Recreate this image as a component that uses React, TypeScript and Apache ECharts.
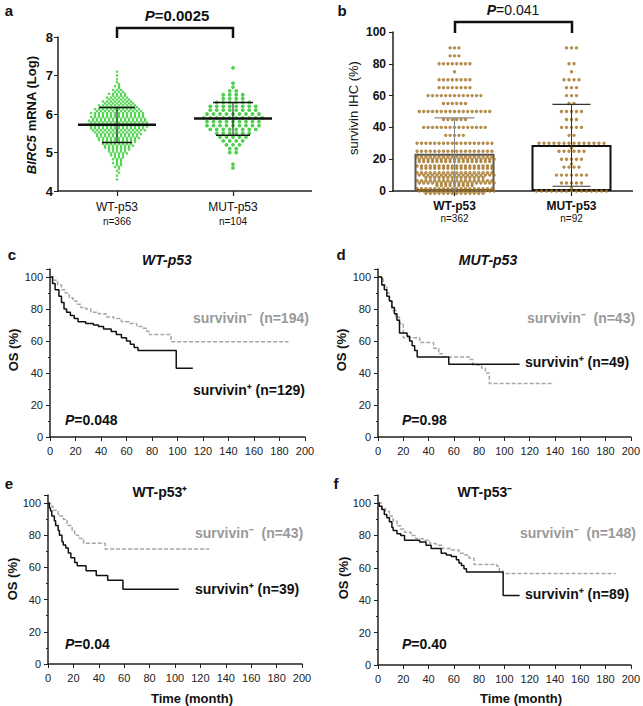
import React, { useEffect, useRef } from 'react';
import * as echarts from 'echarts';

const FONT = '"Liberation Sans", Arial, Helvetica, sans-serif';

// ---------- Panel a : BIRC5 mRNA (Log) ----------
const aCategories = ['WT-p53', 'MUT-p53'];
const aCounts = ['n=366', 'n=104'];
// [value, number of dots]
const aWTBins: [number, number][] = [
  [4.3, 1], [4.4, 1], [4.5, 2], [4.6, 3], [4.7, 5], [4.8, 5], [4.9, 7], [5.0, 10], [5.1, 13], [5.2, 16],
  [5.3, 19], [5.4, 22], [5.5, 24], [5.6, 28], [5.7, 30], [5.8, 30], [5.9, 28], [6.0, 27], [6.1, 24], [6.2, 20],
  [6.3, 16], [6.4, 12], [6.5, 9], [6.6, 6], [6.7, 3], [6.8, 2], [6.9, 1], [7.0, 1], [7.1, 1],
];
const aMUTBins: [number, number][] = [
  [4.6, 1], [4.7, 1], [5.0, 2], [5.1, 2], [5.2, 3], [5.3, 4], [5.4, 5], [5.5, 6], [5.6, 8], [5.7, 9],
  [5.8, 9], [5.9, 10], [6.0, 9], [6.1, 8], [6.2, 8], [6.3, 6], [6.4, 4], [6.5, 4], [6.6, 2], [6.7, 1],
  [6.8, 1], [7.2, 1],
];
const aMean = [5.72, 5.88];
const aSdLow = [5.26, 5.45];
const aSdHigh = [6.17, 6.3];

// ---------- Panel b : survivin IHC (%) ----------
const bCategories = ['WT-p53', 'MUT-p53'];
const bCounts = ['n=362', 'n=92'];
const bWTRows: [number, number][] = [
  [0, 50], [5, 45], [10, 50], [15, 35], [20, 53], [25, 18], [30, 18], [35, 5], [40, 15], [45, 6],
  [50, 17], [55, 6], [60, 13], [65, 8], [70, 8], [75, 1], [80, 8], [85, 3], [90, 3],
];
const bMUTRows: [number, number][] = [
  [0, 15], [2, 1], [5, 5], [10, 7], [15, 4], [17, 1], [20, 5], [25, 6], [27, 1], [30, 14], [35, 2],
  [40, 5], [45, 3], [50, 5], [55, 2], [60, 3], [65, 3], [70, 4], [75, 1], [80, 2], [90, 3],
];
const bMean = [23.5, 29];
const bErrLow = [0, 3];
const bErrHigh = [46, 54.5];

// ---------- Kaplan-Meier curves [month, OS %] ----------
const cPos: [number, number][] = [[0, 100], [2, 96], [4, 92], [7, 88], [9, 84], [11, 80], [13, 78], [16, 76], [19, 74], [22, 72], [28, 71], [34, 70], [38, 69], [42, 67.5], [48, 66], [52, 64], [56, 62], [60, 60], [63, 58], [66, 56], [69, 54], [99, 43], [112, 43]];
const cNeg: [number, number][] = [[0, 100], [3, 98], [6, 95], [9, 92], [12, 90], [15, 87], [18, 85], [21, 83], [24, 81], [28, 80], [32, 78], [38, 77], [44, 75], [50, 74], [56, 72], [62, 71], [68, 69], [72, 68], [76, 66], [78, 64], [95, 59.5], [187, 59.5]];
const dPos: [number, number][] = [[0, 100], [3, 95], [5, 92], [7, 88], [9, 85], [11, 81], [13, 77], [15, 73], [17, 65], [23, 63], [25, 60], [27, 57], [29, 54], [31, 50], [56, 45.5], [112, 45.5]];
const dNeg: [number, number][] = [[0, 100], [4, 95], [7, 90], [9, 85], [11, 79], [14, 75], [17, 71], [20, 62], [33, 59], [44, 55.5], [48, 52], [51, 50], [73, 48.5], [75, 45], [82, 43], [85, 40], [88, 33.5], [139, 33.5]];
const ePos: [number, number][] = [[0, 100], [1, 97], [2, 95], [3, 92], [5, 89], [6, 86], [8, 83], [9, 80], [11, 76], [12, 74], [14, 72], [16, 69], [18, 66], [21, 63], [23, 61], [30, 58], [38, 55], [47, 52], [59, 46.5], [103, 46.5]];
const eNeg: [number, number][] = [[0, 100], [2, 98], [4, 95.5], [8, 92], [12, 90], [15, 86], [19, 83], [21, 80], [24, 78], [28, 75], [45, 71.5], [127, 71.5]];
const fPos: [number, number][] = [[0, 100], [1, 98], [3, 96], [5, 93], [7, 91], [9, 88.5], [11, 85], [12, 83], [15, 81], [18, 80], [21, 77], [33, 76], [38, 74], [42, 72], [50, 69], [54, 68], [58, 67], [62, 65], [64, 63], [66, 61.5], [68, 59.5], [70, 57.5], [99, 43], [112, 43]];
const fNeg: [number, number][] = [[0, 100], [3, 97], [6, 95], [9, 92], [12, 89], [15, 86], [18, 84], [21, 82], [26, 80], [30, 78], [36, 77], [41, 75], [46, 74], [51, 72], [58, 71], [64, 69], [68, 68], [72, 66], [76, 62], [94, 61], [96, 58], [99, 56.5], [188, 56.5]];

// ---------- helpers ----------
// rows of dots for a bee-swarm; each bin is laid out in sub-rows of at most maxPerRow dots
function swarm(cat: number, rows: [number, number][], spacing: number, maxPerRow: number | null, rowGap: number, subRows = 1) {
  const out: any[] = [];
  rows.forEach(([v, count]) => {
    const per = maxPerRow ?? Math.ceil(count / subRows);
    const nRows = Math.ceil(count / per);
    let left = count;
    for (let r = 0; r < nRows; r++) {
      const n = Math.min(per, left);
      left -= n;
      const dy = (r - (nRows - 1) / 2) * rowGap;
      const shift = nRows > 1 && r % 2 === 1 ? spacing / 2 : 0;
      for (let i = 0; i < n; i++) {
        const dx = (i - (n - 1) / 2) * spacing + shift;
        out.push({ value: [cat, v], symbolOffset: [dx, dy] });
      }
    }
  });
  return out;
}

function errSeries(axis: number, item: number[], o: any) {
  return {
    type: 'custom', xAxisIndex: axis, yAxisIndex: axis, z: 6, data: [item],
    renderItem: (_p: any, api: any) => {
      const cat = api.value(0);
      const m = api.coord([cat, api.value(1)]);
      const lo = api.coord([cat, api.value(2)]);
      const hi = api.coord([cat, api.value(3)]);
      const ch: any[] = [];
      ch.push({ type: 'line', shape: { x1: lo[0], y1: lo[1], x2: hi[0], y2: hi[1] }, style: { stroke: o.color, lineWidth: o.width } });
      ch.push({ type: 'line', shape: { x1: hi[0] - o.cap, y1: hi[1], x2: hi[0] + o.cap, y2: hi[1] }, style: { stroke: o.color, lineWidth: o.capWidth } });
      if (o.lowCap) ch.push({ type: 'line', shape: { x1: lo[0] - o.lowCap, y1: lo[1], x2: lo[0] + o.lowCap, y2: lo[1] }, style: { stroke: o.color, lineWidth: o.capWidth } });
      if (o.mean) ch.push({ type: 'line', shape: { x1: m[0] - o.mean, y1: m[1], x2: m[0] + o.mean, y2: m[1] }, style: { stroke: '#111', lineWidth: 2.5 } });
      return { type: 'group', children: ch };
    },
  };
}

const txt = (x: number, y: number, text: string, o: any = {}) => ({
  type: 'text', x, y, rotation: o.rot || 0, z: 10,
  style: {
    text, fill: o.color || '#111', fontSize: o.size || 13, fontWeight: o.weight || 'bold',
    fontStyle: o.italic ? 'italic' : 'normal', fontFamily: FONT,
    align: o.align || 'center', verticalAlign: 'middle', rich: o.rich,
  },
});

const pText = (x: number, y: number, rest: string, size: number, weight: string, align = 'left') => {
  const base = { fontSize: size, fontFamily: FONT, fill: '#111', color: '#111' };
  return txt(x, y, `{i|P}{n|${rest}}`, {
    align, size,
    rich: { i: { ...base, fontStyle: 'italic', fontWeight: 'bold' }, n: { ...base, fontWeight: weight } },
  });
};

const kmX = (gi: number) => ({
  type: 'value', gridIndex: gi, min: 0, max: 200, interval: 20,
  axisLine: { lineStyle: { color: '#222', width: 1.5 } },
  axisTick: { length: 4, lineStyle: { color: '#222' } },
  axisLabel: { fontSize: 11, color: '#222', fontFamily: FONT, margin: 8 },
  splitLine: { show: false },
});
const kmY = (gi: number) => ({
  type: 'value', gridIndex: gi, min: 0, max: 105, interval: 20,
  axisLine: { show: true, lineStyle: { color: '#222', width: 1.5 } },
  axisTick: { show: true, length: 4, lineStyle: { color: '#222' } },
  minorTick: { show: true, splitNumber: 2, length: 2, lineStyle: { color: '#222' } },
  axisLabel: { fontSize: 11, color: '#222', fontFamily: FONT, margin: 7, formatter: (v: number) => (v % 20 === 0 ? String(v) : '') },
  splitLine: { show: false },
});
const km = (gi: number, data: [number, number][], dashed: boolean) => ({
  type: 'line', xAxisIndex: gi, yAxisIndex: gi, data, step: 'end', symbol: 'none', z: dashed ? 2 : 3,
  lineStyle: { color: dashed ? '#a6a6a6' : '#111', width: 1.5, type: dashed ? [4, 2] : 'solid' },
});

const catX = (gi: number, cats: string[], counts: string[], bold: boolean) => ({
  type: 'category', gridIndex: gi, data: cats,
  axisLine: { show: false },
  axisTick: { show: true, alignWithLabel: true, length: 5, lineStyle: { color: '#222', width: 1.2 } },
  axisLabel: {
    margin: 9, interval: 0,
    formatter: (v: string) => `{a|${v}}\n{b|${counts[cats.indexOf(v)]}}`,
    rich: {
      a: { fontSize: 12, fontWeight: bold ? 'bold' : 'normal', color: '#111', fontFamily: FONT, lineHeight: bold ? 12 : 14 },
      b: { fontSize: 10, color: '#111', fontFamily: FONT, lineHeight: bold ? 12 : 14 },
    },
  },
});

export default function App() {
  const ref = useRef<HTMLDivElement>(null);
  useEffect(() => {
    if (!ref.current) return;
    const chart = echarts.init(ref.current, undefined, { renderer: 'svg' });
    const gray = '#999999';
    const option: any = {
      animation: false,
      backgroundColor: '#ffffff',
      grid: [
        { left: 59, top: 37, width: 232, height: 154 },
        { left: 396, top: 32, width: 234, height: 159 },
        { left: 50, top: 269, width: 255, height: 168 },
        { left: 378, top: 269, width: 255, height: 168 },
        { left: 48, top: 495, width: 254, height: 169 },
        { left: 378, top: 495, width: 253, height: 170 },
      ],
      xAxis: [
        catX(0, aCategories, aCounts, false),
        catX(1, bCategories, bCounts, true),
        kmX(2), kmX(3), kmX(4), kmX(5),
      ],
      yAxis: [
        {
          type: 'value', gridIndex: 0, min: 4, max: 8, interval: 1, offset: 1,
          axisLine: { show: true, lineStyle: { color: '#222', width: 1.5 } },
          axisTick: { show: true, length: 4, lineStyle: { color: '#222' } },
          axisLabel: { fontSize: 13, fontWeight: 'bold', color: '#111', fontFamily: FONT, margin: 5 },
          splitLine: { show: false },
        },
        {
          type: 'value', gridIndex: 1, min: 0, max: 100, interval: 20, offset: 3,
          axisLine: { show: true, lineStyle: { color: '#222', width: 1.5 } },
          axisTick: { show: true, length: 4, lineStyle: { color: '#222' } },
          axisLabel: { fontSize: 12, fontWeight: 'bold', color: '#111', fontFamily: FONT, margin: 7 },
          splitLine: { show: false },
        },
        kmY(2), kmY(3), kmY(4), kmY(5),
      ],
      series: [
        { type: 'scatter', xAxisIndex: 0, yAxisIndex: 0, symbolSize: 2.6, itemStyle: { color: '#33cc33' }, data: swarm(0, aWTBins, 4.0, null, 1.9, 2) },
        { type: 'scatter', xAxisIndex: 0, yAxisIndex: 0, symbolSize: 3.8, itemStyle: { color: '#22c422' }, data: swarm(1, aMUTBins, 6.5, null, 0, 1) },
        errSeries(0, [0, aMean[0], aSdLow[0], aSdHigh[0]], { color: '#111', width: 1, cap: 18, capWidth: 1.5, lowCap: 15, mean: 39 }),
        errSeries(0, [1, aMean[1], aSdLow[1], aSdHigh[1]], { color: '#111', width: 1, cap: 20, capWidth: 1.5, lowCap: 17, mean: 39 }),
        {
          type: 'bar', xAxisIndex: 1, yAxisIndex: 1, barWidth: 80, z: 1,
          data: bMean.map((v, i) => ({ value: v, itemStyle: { color: 'rgba(255,255,255,0)', borderColor: i === 0 ? '#555' : '#111', borderWidth: 2 } })),
        },
        { type: 'scatter', xAxisIndex: 1, yAxisIndex: 1, symbolSize: 3.4, z: 3, itemStyle: { color: '#a0701f' }, data: swarm(0, bWTRows, 4.4, 18, 2.4) },
        { type: 'scatter', xAxisIndex: 1, yAxisIndex: 1, symbolSize: 3.4, z: 3, itemStyle: { color: '#a0701f' }, data: swarm(1, bMUTRows, 5, 18, 2.4) },
        errSeries(1, [0, bMean[0], bErrLow[0], bErrHigh[0]], { color: '#8a8a8a', width: 1, cap: 20, capWidth: 1.2, lowCap: 0, mean: 0 }),
        errSeries(1, [1, bMean[1], bErrLow[1], bErrHigh[1]], { color: '#333', width: 1, cap: 19, capWidth: 1.2, lowCap: 19, mean: 0 }),
        km(2, cNeg, true), km(2, cPos, false),
        km(3, dNeg, true), km(3, dPos, false),
        km(4, eNeg, true), km(4, ePos, false),
        km(5, fNeg, true), km(5, fPos, false),
      ],
      graphic: [
        // extended x axis lines of a & b
        { type: 'line', shape: { x1: 57, y1: 191, x2: 312, y2: 191 }, style: { stroke: '#222', lineWidth: 1.5 } },
        { type: 'line', shape: { x1: 392, y1: 191, x2: 633, y2: 191 }, style: { stroke: '#222', lineWidth: 1.5 } },
        // brackets
        { type: 'polyline', shape: { points: [[117, 38], [117, 28], [233, 28], [233, 38]] }, style: { stroke: '#111', lineWidth: 2.5, fill: 'none' } },
        { type: 'polyline', shape: { points: [[455, 33], [455, 22], [572, 22], [572, 33]] }, style: { stroke: '#111', lineWidth: 2.5, fill: 'none' } },
        pText(177, 15, '=0.0025', 15, 'bold', 'center'),
        pText(513, 10, '=0.041', 14, 'normal', 'center'),
        // panel letters
        txt(9, 10, 'a', { size: 15 }), txt(342, 10, 'b', { size: 15 }),
        txt(12, 254, 'c', { size: 15 }), txt(341, 254, 'd', { size: 15 }),
        txt(9, 483, 'e', { size: 15 }), txt(336, 483, 'f', { size: 15 }),
        // y titles a & b
        txt(31, 115, '{i|BIRC5}{n| mRNA (Log)}', {
          rot: Math.PI / 2,
          rich: {
            i: { fontSize: 13, fontWeight: 'bold', fontStyle: 'italic', fontFamily: FONT, fill: '#111', color: '#111' },
            n: { fontSize: 13, fontWeight: 'bold', fontFamily: FONT, fill: '#111', color: '#111' },
          },
        }),
        txt(353, 108, 'survivin IHC (%)', { rot: Math.PI / 2, weight: 'normal', size: 13 }),
        // KM titles
        txt(167, 260, 'WT-p53', { italic: true, size: 14 }),
        txt(488, 260, 'MUT-p53', { italic: true, size: 14 }),
        txt(160, 492, 'WT-p53\u207A', { size: 14 }),
        txt(485, 492, 'WT-p53\u207B', { size: 14 }),
        // OS (%)
        txt(13, 350, 'OS (%)', { rot: Math.PI / 2, size: 13 }),
        txt(341, 350, 'OS (%)', { rot: Math.PI / 2, size: 13 }),
        txt(12, 579, 'OS (%)', { rot: Math.PI / 2, size: 13 }),
        txt(343, 578, 'OS (%)', { rot: Math.PI / 2, size: 13 }),
        // Time (month)
        txt(192, 698, 'Time (month)', { size: 13 }),
        txt(521, 698, 'Time (month)', { size: 13 }),
        // legends
        txt(193, 318, 'survivin\u207B  (n=194)', { align: 'left', size: 14, color: gray }),
        txt(193, 390, 'survivin\u207A (n=129)', { align: 'left', size: 14 }),
        pText(65, 420, '=0.048', 14, 'bold'),
        txt(527, 318, 'survivin\u207B  (n=43)', { align: 'left', size: 14, color: gray }),
        txt(525, 362, 'survivin\u207A (n=49)', { align: 'left', size: 14 }),
        pText(402, 420, '=0.98', 14, 'bold'),
        txt(195, 533, 'survivin\u207B  (n=43)', { align: 'left', size: 14, color: gray }),
        txt(195, 589, 'survivin\u207A (n=39)', { align: 'left', size: 14 }),
        pText(65, 644, '=0.04', 14, 'bold'),
        txt(520, 533, 'survivin\u207B  (n=148)', { align: 'left', size: 14, color: gray }),
        txt(525, 594, 'survivin\u207A (n=89)', { align: 'left', size: 14 }),
        pText(402, 644, '=0.40', 14, 'bold'),
      ],
    };
    chart.setOption(option);
    return () => chart.dispose();
  }, []);
  return <div ref={ref} style={{ position: 'absolute', left: 0, top: 0, width: 643, height: 706, background: '#fff' }} />;
}
